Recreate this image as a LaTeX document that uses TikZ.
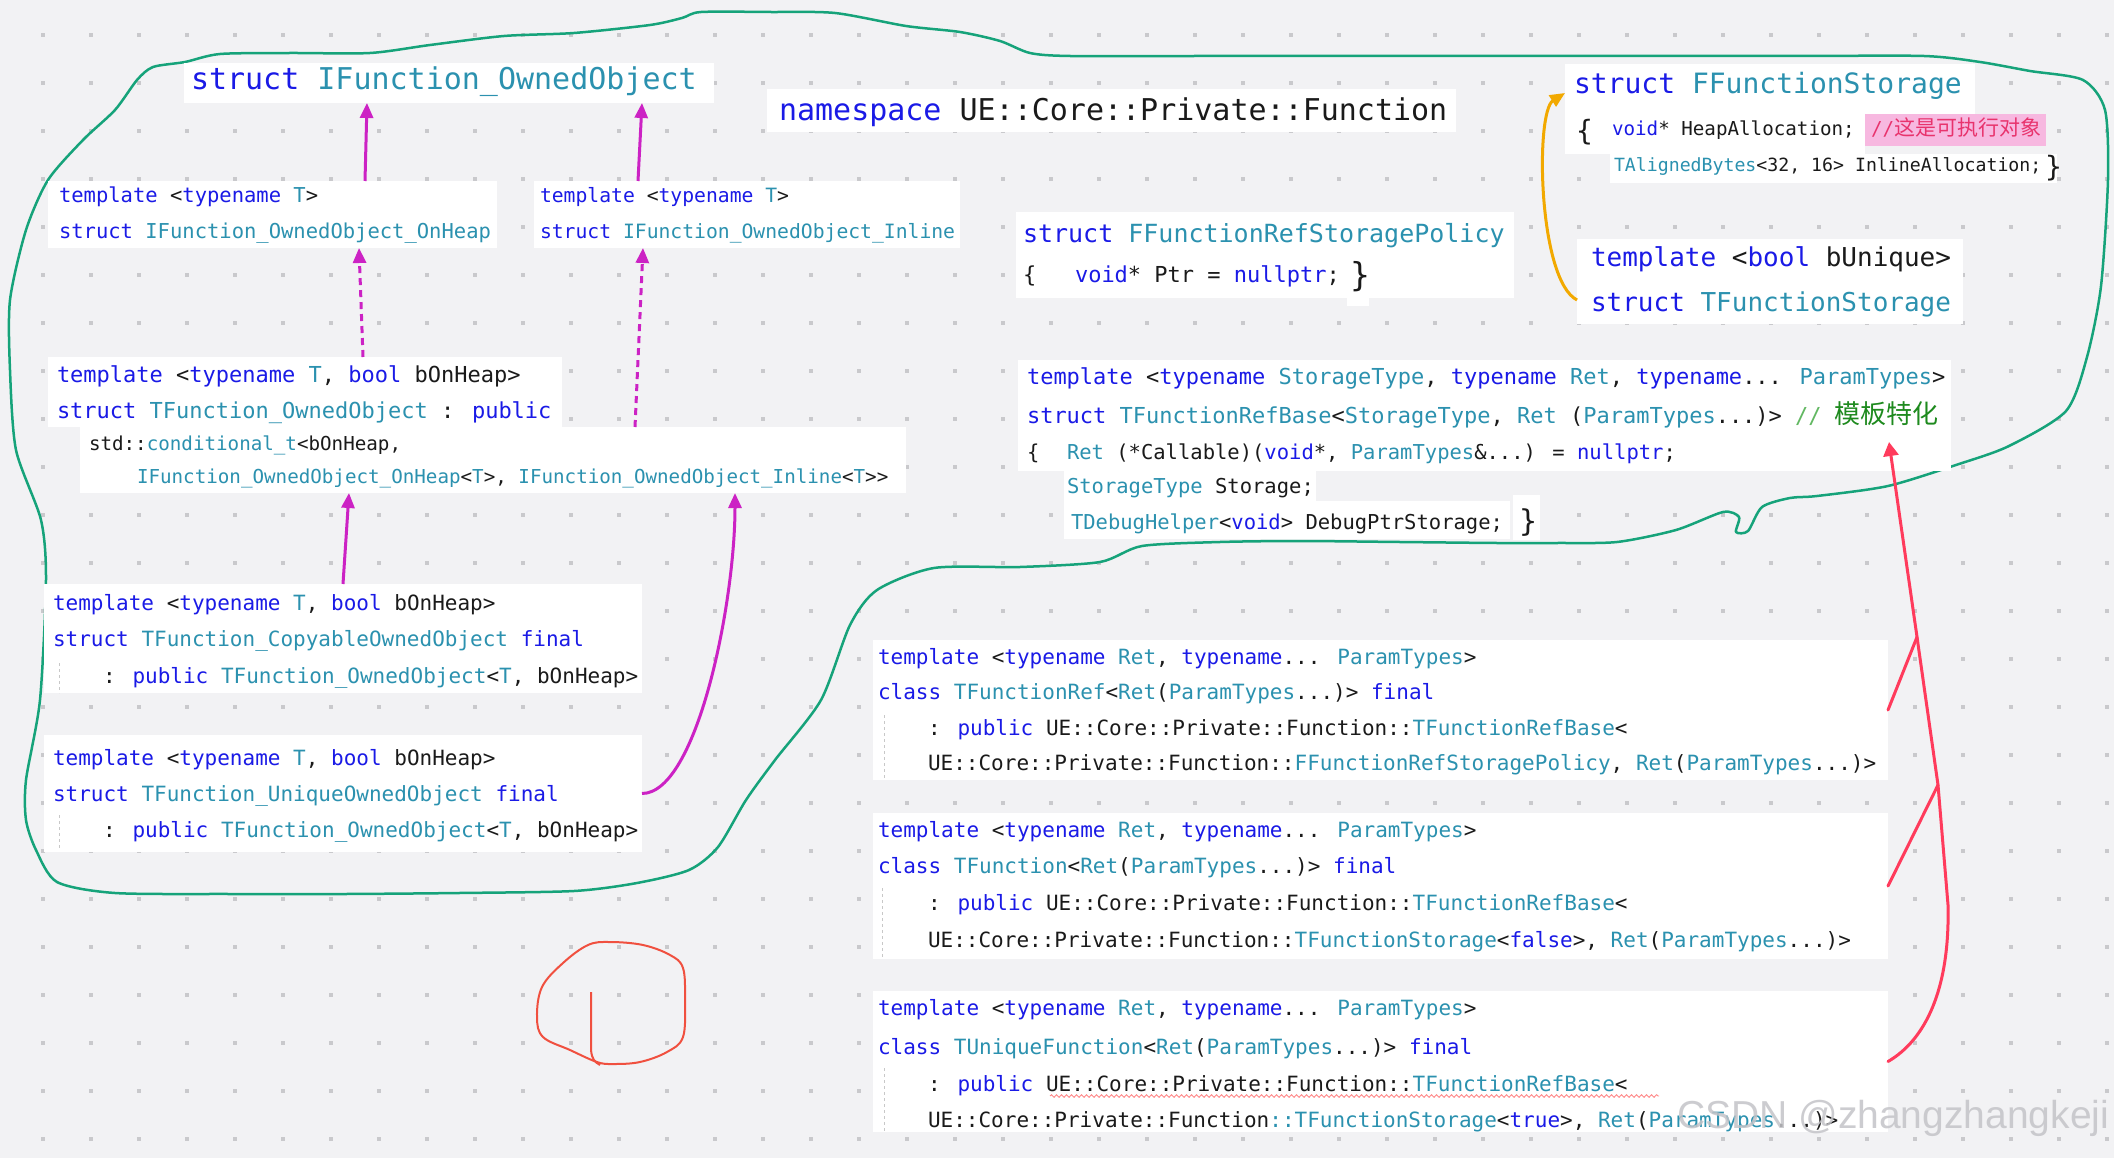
\documentclass[tikz,border=0pt]{standalone}
\usepackage{fontspec}
\usetikzlibrary{arrows.meta,decorations.pathmorphing}
\newfontfamily\codefont{DejaVu Sans Mono}
\newfontfamily\cjkfont{Noto Sans CJK SC}
\newfontfamily\wmfont{Liberation Sans}
\definecolor{bgc}{HTML}{F2F2F4}
\definecolor{dotc}{HTML}{C9C9CC}
\definecolor{kw}{HTML}{1A1AE6}
\definecolor{ty}{HTML}{2B91AF}
\definecolor{tx}{HTML}{1A1A1A}
\definecolor{cm}{HTML}{1E8A1E}
\definecolor{cml}{HTML}{62B862}
\definecolor{pinkbg}{HTML}{F7B8E0}
\definecolor{pinktx}{HTML}{E8336D}
\definecolor{mag}{HTML}{CC22C4}
\definecolor{org}{HTML}{F2A900}
\definecolor{redc}{HTML}{FF3B5C}
\definecolor{grn}{HTML}{16A37A}
\definecolor{circ}{HTML}{F0503F}
\definecolor{wmc}{HTML}{C4C4C8}
\definecolor{guidec}{HTML}{C8C8C8}
\definecolor{wavyc}{HTML}{FF8A8A}
\newcommand\kwd[1]{\textcolor{kw}{#1}}
\newcommand\typ[1]{\textcolor{ty}{#1}}
\newcommand\cjt[2]{{\fontsize{#1}{#1}\cjkfont #2}}
\tikzset{
  wb/.style={rectangle, fill=white, draw=none, inner sep=0pt, outer sep=0pt, anchor=north west},
  ln/.style={anchor=base west, inner sep=0pt, outer sep=0pt, text=tx},
  f30/.style={font={\codefont\fontsize{30}{34}\selectfont}},
  f28/.style={font={\codefont\fontsize{28}{32}\selectfont}},
  f26/.style={font={\codefont\fontsize{26}{30}\selectfont}},
  f25/.style={font={\codefont\fontsize{25}{29}\selectfont}},
  f22/.style={font={\codefont\fontsize{22}{26}\selectfont}},
  f21/.style={font={\codefont\fontsize{21}{25}\selectfont}},
  f205/.style={font={\codefont\fontsize{20.5}{24}\selectfont}},
  f197/.style={font={\codefont\fontsize{19.7}{24}\selectfont}},
  f19/.style={font={\codefont\fontsize{19.2}{23}\selectfont}},
  f18/.style={font={\codefont\fontsize{18.2}{22}\selectfont}},
  fbr/.style={font={\codefont\fontsize{#1}{#1}\selectfont}},
  marr/.style={draw=mag, line width=3pt, -{Triangle[length=15pt,width=13pt]}},
  mdash/.style={dash pattern=on 7pt off 5pt},
  oarr/.style={draw=org, line width=3pt, -{Triangle[length=15pt,width=13pt]}},
  rline/.style={draw=redc, line width=3pt, line join=round, line cap=round},
  rarr/.style={rline, -{Triangle[length=14pt,width=15pt]}},
  guide/.style={draw=guidec, line width=1pt, dash pattern=on 3pt off 3pt},
}
\begin{document}
\begin{tikzpicture}[x=1pt,y=-1pt]
\useasboundingbox (0,0) rectangle (2114,1158);
\fill[bgc] (0,0) rectangle (2114,1158);
% dot grid
\foreach \i in {0,...,43}{\foreach \j in {0,...,23}{\fill[dotc] ({41+48*\i},{33+48*\j}) rectangle +(4,4);}}
% green hand-drawn outline
\draw[grn, line width=2.5pt, line join=round] plot[smooth cycle, tension=0.45] coordinates {
(701,12) (770,12) (835,13) (906,26) (960,32) (1000,41) (1030,53) (1070,56) (1200,56) (1350,56) (1500,56)
(1650,56) (1800,56) (1924,56) (1980,62) (2030,71) (2083,80)
(2105,110) (2108,179) (2101,286) (2087,357) (2066,411) (2009,446) (1959,464) (1888,486) (1817,496)
(1790,498) (1762,507) (1748,531) (1736,532) (1739,517) (1723,512) (1676,530) (1617,542) (1557,543) (1497,543)
(1400,542) (1300,541) (1220,542) (1142,546) (1100,562) (1020,567) (934,568) (877,590) (850,625) (821,700) (775,760) (746,800)
(718,847) (689,870) (637,883) (574,891) (459,893) (345,894) (230,894) (115,893) (57,882) (36,850) (26,820)
(26,780) (40,700) (46,580) (41,520) (16,450) (10,370) (10,300) (26,230) (48,180) (83,140) (115,110)
(137,80) (153,67) (185,62) (220,54) (290,53) (370,53) (430,45) (504,36) (574,33) (650,25) (682,18)};
% red circle
\draw[circ, line width=2pt] plot[smooth cycle, tension=0.6] coordinates {(542,987) (563,963) (588,945) (610,942) (643,945) (670,955) (683,968) (685,1000) (683,1037) (667,1052) (640,1062) (613,1064) (597,1062) (570,1050) (543,1037) (537,1017)};
\draw[circ, line width=2pt] (591,992) -- (591,1050) .. controls (592,1060) and (595,1062) .. (600,1065);

% ---------- boxes ----------
\node[wb, minimum width=530pt, minimum height=40pt] (title) at (184,63) {};
\node[wb, minimum width=689pt, minimum height=43pt] (ns) at (767,89) {};
\node[wb, minimum width=449pt, minimum height=67pt] (onheap) at (48,181) {};
\node[wb, minimum width=426pt, minimum height=67pt] (inl) at (534,181) {};
\node[wb, minimum width=514pt, minimum height=70pt] (owned) at (48,357) {};
\node[wb, minimum width=826pt, minimum height=66pt] (ownedb) at (80,427) {};
\node[wb, minimum width=598pt, minimum height=109pt] (copy) at (44,584) {};
\node[wb, minimum width=598pt, minimum height=117pt] (uniq) at (44,735) {};
\node[wb, minimum width=498pt, minimum height=86pt] (frsp) at (1016,212) {};
\node[wb, minimum width=22pt, minimum height=54pt] (frspb) at (1347,252) {};
\node[wb, minimum width=410pt, minimum height=50pt] (fs1) at (1565,64) {};
\node[wb, minimum width=300pt, minimum height=40pt] (fs2) at (1565,114) {};
\node[wb, fill=pinkbg, minimum width=181pt, minimum height=32pt] (fsp) at (1865,114) {};
\node[wb, minimum width=447pt, minimum height=29pt] (fs3) at (1610,154) {};
\node[wb, minimum width=386pt, minimum height=85pt] (tstor) at (1577,239) {};
\node[wb, minimum width=933pt, minimum height=111pt] (rb) at (1018,360) {};
\node[wb, minimum width=252pt, minimum height=30pt] (rb2) at (1064,471) {};
\node[wb, minimum width=446pt, minimum height=38pt] (rb3) at (1064,501) {};
\node[wb, minimum width=27pt, minimum height=45pt] (rbbr) at (1513,495) {};
\node[wb, minimum width=1015pt, minimum height=140pt] (tref) at (873,640) {};
\node[wb, minimum width=1015pt, minimum height=146pt] (tfun) at (873,813) {};
\node[wb, minimum width=1015pt, minimum height=141pt] (tuniq) at (873,991) {};

% indent guides
\draw[guide] (59,663) -- (59,693);
\draw[guide] (59,815) -- (59,851);
\draw[guide] (884,715) -- (884,780);
\draw[guide] (882,888) -- (882,959);
\draw[guide] (884,1068) -- (884,1132);

% ---------- texts ----------
\node[ln,f30] (tt) at (191,90) {\kwd{struct} \typ{IFunction\_OwnedObject}};
\node[ln,f30] (nst) at (779,121) {\kwd{namespace} UE::Core::Private::Function};

\node[ln,f205] (oh1) at (59,203) {\kwd{template} <\kwd{typename} \typ{T}>};
\node[ln,f205] (oh2) at (59,239) {\kwd{struct} \typ{IFunction\_OwnedObject\_OnHeap}};
\node[ln,f197] (il1) at (540,203) {\kwd{template} <\kwd{typename} \typ{T}>};
\node[ln,f197] (il2) at (540,239) {\kwd{struct} \typ{IFunction\_OwnedObject\_Inline}};

\node[ln,f22] (ow1) at (57,382) {\kwd{template} <\kwd{typename} \typ{T}, \kwd{bool} bOnHeap>};
\node[ln,f22] (ow2) at (57,418) {\kwd{struct} \typ{TFunction\_OwnedObject} : \kwd{public}};
\node[ln,f19] (ow3) at (89,450) {std::\typ{conditional\_t}<bOnHeap,};
\node[ln,f19] (ow4) at (137,483) {\typ{IFunction\_OwnedObject\_OnHeap}<\typ{T}>, \typ{IFunction\_OwnedObject\_Inline}<\typ{T}>{}>};

\node[ln,f21] (cp1) at (53,610) {\kwd{template} <\kwd{typename} \typ{T}, \kwd{bool} bOnHeap>};
\node[ln,f21] (cp2) at (53,646) {\kwd{struct} \typ{TFunction\_CopyableOwnedObject} \kwd{final}};
\node[ln,f21] (cp3) at (103,683) {: \kwd{public} \typ{TFunction\_OwnedObject}<\typ{T}, bOnHeap>};

\node[ln,f21] (uq1) at (53,765) {\kwd{template} <\kwd{typename} \typ{T}, \kwd{bool} bOnHeap>};
\node[ln,f21] (uq2) at (53,801) {\kwd{struct} \typ{TFunction\_UniqueOwnedObject} \kwd{final}};
\node[ln,f21] (uq3) at (103,837) {: \kwd{public} \typ{TFunction\_OwnedObject}<\typ{T}, bOnHeap>};

\node[ln,f25] (fp1) at (1023,243) {\kwd{struct} \typ{FFunctionRefStoragePolicy}};
\node[ln,f22] (fp2) at (1023,283) {\{};
\node[ln,f22] (fp3) at (1075,283) {\kwd{void}* Ptr = \kwd{nullptr};};
\node[ln,fbr=33] (fp4) at (1350,287) {\}};

\node[ln,f28] (fs1t) at (1574,94) {\kwd{struct} \typ{FFunctionStorage}};
\node[ln,fbr=28] (fs2a) at (1576,141) {\{};
\node[ln,f19] (fs2b) at (1612,136) {\kwd{void}* HeapAllocation;};
\node[ln,f19,text=pinktx] (fs2c) at (1871,136) {//\cjt{21}{这是可执行对象}};
\node[ln,f18] (fs3t) at (1614,172) {\typ{TAlignedBytes}<32, 16> InlineAllocation;};
\node[ln,fbr=28] (fs3b) at (2045,177) {\}};

\node[ln,f26] (ts1) at (1591,266) {\kwd{template} <\kwd{bool} bUnique>};
\node[ln,f26] (ts2) at (1591,311) {\kwd{struct} \typ{TFunctionStorage}};

\node[ln,f22] (rb1) at (1027,384) {\kwd{template} <\kwd{typename} \typ{StorageType}, \kwd{typename} \typ{Ret}, \kwd{typename}... \typ{ParamTypes}>};
\node[ln,f22] (rb2t) at (1027,423) {\kwd{struct} \typ{TFunctionRefBase}<\typ{StorageType}, \typ{Ret} (\typ{ParamTypes}...)> \textcolor{cml}{//} \textcolor{cm}{\cjt{26}{模板特化}}};
\node[ln,f205] (rb3a) at (1027,459) {\{};
\node[ln,f205] (rb3b) at (1067,459) {\typ{Ret} (*Callable)(\kwd{void}*, \typ{ParamTypes}\&...) = \kwd{nullptr};};
\node[ln,f205] (rb4) at (1067,493) {\typ{StorageType} Storage;};
\node[ln,f205] (rb5) at (1071,529) {\typ{TDebugHelper}<\kwd{void}> DebugPtrStorage;};
\node[ln,fbr=30] (rb5b) at (1519,531) {\}};

\node[ln,f21] (tr1) at (878,664) {\kwd{template} <\kwd{typename} \typ{Ret}, \kwd{typename}... \typ{ParamTypes}>};
\node[ln,f21] (tr2) at (878,699) {\kwd{class} \typ{TFunctionRef}<\typ{Ret}(\typ{ParamTypes}...)> \kwd{final}};
\node[ln,f21] (tr3) at (928,735) {: \kwd{public} UE::Core::Private::Function::\typ{TFunctionRefBase}<};
\node[ln,f21] (tr4) at (928,770) {UE::Core::Private::Function::\typ{FFunctionRefStoragePolicy}, \typ{Ret}(\typ{ParamTypes}...)>};

\node[ln,f21] (tf1) at (878,837) {\kwd{template} <\kwd{typename} \typ{Ret}, \kwd{typename}... \typ{ParamTypes}>};
\node[ln,f21] (tf2) at (878,873) {\kwd{class} \typ{TFunction}<\typ{Ret}(\typ{ParamTypes}...)> \kwd{final}};
\node[ln,f21] (tf3) at (928,910) {: \kwd{public} UE::Core::Private::Function::\typ{TFunctionRefBase}<};
\node[ln,f21] (tf4) at (928,947) {UE::Core::Private::Function::\typ{TFunctionStorage}<\kwd{false}>, \typ{Ret}(\typ{ParamTypes}...)>};

\node[ln,f21] (tu1) at (878,1015) {\kwd{template} <\kwd{typename} \typ{Ret}, \kwd{typename}... \typ{ParamTypes}>};
\node[ln,f21] (tu2) at (878,1054) {\kwd{class} \typ{TUniqueFunction}<\typ{Ret}(\typ{ParamTypes}...)> \kwd{final}};
\node[ln,f21] (tu3) at (928,1091) {: \kwd{public} UE::Core::Private::Function::\typ{TFunctionRefBase}<};
\node[ln,f21] (tu4) at (928,1127) {UE::Core::Private::Function\typ{::TFunctionStorage}<\kwd{true}>, \typ{Ret}(\typ{ParamTypes}...)>};
\draw[wavyc, line width=0.9pt, decorate, decoration={snake, amplitude=1.3pt, segment length=5pt}] (1050,1096) -- (1659,1096);

% ---------- connectors ----------
\draw[marr] ([xshift=92.5pt]onheap.north) -- ([xshift=-82pt]title.south);
\draw[marr] ([xshift=-109pt]inl.north) -- ([xshift=193pt]title.south);
\draw[marr,mdash] ([xshift=58pt]owned.north) -- ([xshift=86.5pt]onheap.south);
\draw[marr,mdash] ([xshift=142pt]ownedb.north) -- ([xshift=-104pt]inl.south);
\draw[marr] (copy.north) -- ([xshift=-144pt]ownedb.south);
\draw[marr] (uniq.east) .. controls +(55,0) and +(0,110) .. ([xshift=242pt]ownedb.south);

\draw[oarr] ([yshift=24pt]tstor.south west) .. controls (1538,280) and (1535,112) .. ([yshift=-4pt]fs1.west);

\coordinate (j1) at (1917,637);
\coordinate (j2) at (1938,785);
\coordinate (j3) at (1948,905);
\draw[rarr] (tuniq.east) .. controls (1925,1040) and (1950,990) .. (j3) -- (j2) -- (j1) -- ([xshift=-62pt,yshift=29pt]rb.south east);
\draw[rline] (tref.east) -- (j1);
\draw[rline] (tfun.east) -- (j2);

% watermark
\node[anchor=base west, inner sep=0pt, text=wmc, opacity=0.85, font={\wmfont\fontsize{39}{44}\selectfont}] (wmk) at (1677,1128) {CSDN @zhangzhangkeji};
\end{tikzpicture}
\end{document}
